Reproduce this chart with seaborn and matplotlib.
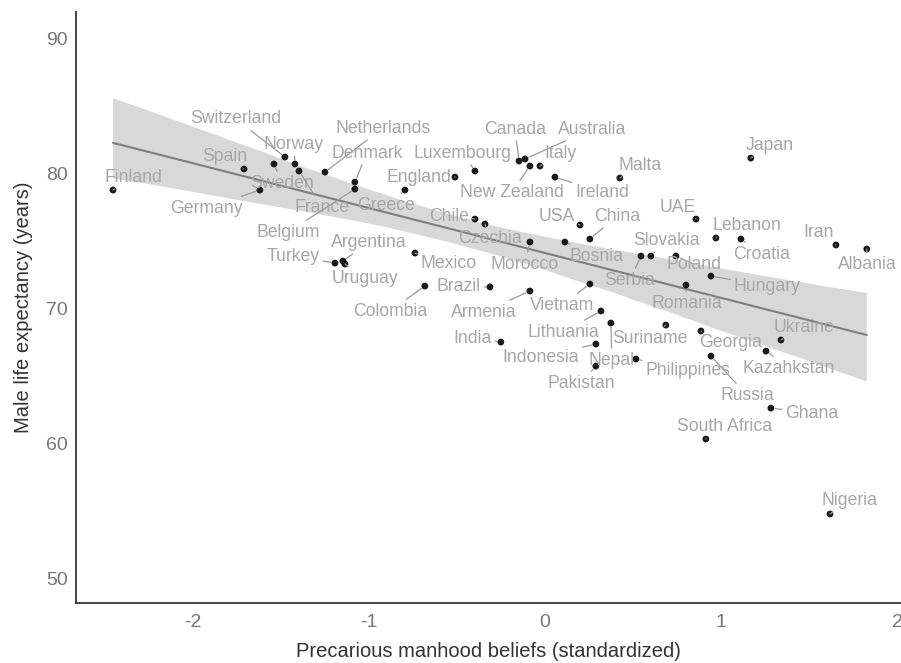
import matplotlib
matplotlib.use("Agg")
import matplotlib.pyplot as plt
import seaborn as sns
import pandas as pd
import numpy as np

countries = ["Finland", "Spain", "Sweden", "Switzerland", "Norway", "France", "Germany",
             "Netherlands", "Denmark", "Belgium", "Greece", "England", "Luxembourg", "Canada",
             "Australia", "New Zealand", "Italy", "Ireland", "Malta", "Chile", "Czechia",
             "Morocco", "Bosnia", "USA", "China", "Mexico", "Argentina", "Turkey", "Uruguay",
             "Colombia", "Brazil", "Armenia", "Vietnam", "Serbia", "Slovakia", "Poland",
             "Hungary", "Romania", "UAE", "Japan", "Lebanon", "Croatia", "Iran", "Albania",
             "Ukraine", "Georgia", "Kazahkstan", "Russia", "Ghana", "South Africa",
             "Philippines", "Suriname", "Nepal", "Pakistan", "Indonesia", "Lithuania",
             "India", "Nigeria"]

manhood = [-2.45, -1.707, -1.537, -1.475, -1.418, -1.395, -1.617,
           -1.248, -1.078, -1.078, -0.794, -0.51, -0.397, -0.147,
           -0.113, -0.085, -0.028, 0.057, 0.425, -0.397, -0.340,
           -0.085, 0.113, 0.199, 0.255, -0.737, -1.146, -1.191, -1.134,
           -0.681, -0.312, -0.085, 0.255, 0.545, 0.601, 0.743,
           0.942, 0.800, 0.857, 1.168, 0.970, 1.112, 1.651, 1.826,
           1.339, 0.885, 1.254, 0.942, 1.282, 0.913,
           0.516, 0.686, 0.374, 0.289, 0.289, 0.318,
           -0.250, 1.617]

life_exp = [78.74, 80.30, 80.67, 81.19, 80.67, 80.15, 78.74,
            80.07, 79.33, 78.81, 78.74, 79.70, 80.15, 80.89,
            81.04, 80.52, 80.52, 79.70, 79.63, 76.59, 76.22,
            74.89, 74.89, 76.15, 75.11, 74.07, 73.48, 73.33, 73.26,
            71.63, 71.56, 71.26, 71.78, 73.85, 73.85, 73.85,
            72.37, 71.70, 76.59, 81.11, 75.19, 75.11, 74.67, 74.37,
            67.63, 68.30, 66.81, 66.44, 62.59, 60.30,
            66.22, 68.74, 68.89, 65.70, 67.33, 69.78,
            67.48, 54.74]

# label offsets from each point, in pixels (dx right, dy down)
label_dx = [20, -19, 8, -49, -1, 23, -53,
            58, 12, -67, -19, -36, -12, -4,
            67, -18, 21, 47, 20, -26, 5,
            -5, 32, -23, 27, 34, 26, -42, 20,
            -35, -31, -46, -28, -11, 16, 18,
            56, 1, -18, 19, 31, 21, -17, 1,
            23, 30, 23, 36, 41, 19,
            52, -16, 1, -15, -55, -38,
            -28, 20]
label_dy = [-13, -12, 19, -38, -20, 36, 18,
            -44, -29, 43, 15, 0, -18, -32,
            -30, 26, -13, 15, -13, -3, 14,
            22, 14, -9, -23, 10, -19, -7, 14,
            25, 0, 21, 21, 24, -16, 8,
            10, 18, -12, -13, -12, 15, -12, 15,
            -13, 12, 17, 39, 5, -12,
            11, 13, 37, 17, 13, 21,
            -4, -14]

x_ticks = [-2, -1, 0, 1, 2]
y_ticks = [50, 60, 70, 80, 90]

df = pd.DataFrame({"country": countries, "manhood": manhood, "life": life_exp})

sns.set_theme(style="white")
plt.rcParams["font.family"] = ["Liberation Sans", "DejaVu Sans"]
plt.rcParams["axes.unicode_minus"] = False

W, H = 901, 663
fig = plt.figure(figsize=(W / 100, H / 100), dpi=100)
ax = fig.add_axes([76 / W, 60 / H, (W - 76) / W, (603 - 12) / H])

sns.regplot(data=df, x="manhood", y="life", scatter=False, ci=95, n_boot=2000, seed=1,
            color="#7f7f7f", line_kws={"linewidth": 1.5, "color": "#7f7f7f"}, ax=ax)
for coll in ax.collections:
    coll.set_facecolor("#d8d8d8")
    coll.set_alpha(1)
    coll.set_edgecolor("none")

sns.scatterplot(data=df, x="manhood", y="life", color="#1a1a1a", s=24, edgecolor="none",
                ax=ax, zorder=4)

for name, xv, yv, dx, dy in zip(countries, manhood, life_exp, label_dx, label_dy):
    ax.annotate(name, xy=(xv, yv), xytext=(dx, -dy), textcoords="offset pixels",
                ha="center", va="center", fontsize=12.7, color="#a6a6a6", zorder=5,
                arrowprops=dict(arrowstyle="-", color="#9a9a9a", lw=0.9,
                                shrinkA=0, shrinkB=3))

ax.set_xlim(-2.66, 2.02)
ax.set_ylim(48.15, 91.93)
ax.set_xticks(x_ticks)
ax.set_yticks(y_ticks)
ax.tick_params(axis="both", length=0, labelsize=14, labelcolor="#777777")
ax.tick_params(axis="x", pad=8)
ax.tick_params(axis="y", pad=6)
ax.set_xlabel("Precarious manhood beliefs (standardized)", fontsize=14.5, color="#333333",
              labelpad=8)
ax.set_ylabel("Male life expectancy (years)", fontsize=14.5, color="#333333", labelpad=9)

for side in ["top", "right"]:
    ax.spines[side].set_visible(False)
for side in ["left", "bottom"]:
    ax.spines[side].set_color("#444444")
    ax.spines[side].set_linewidth(1.4)

fig.savefig("out.png", dpi=100)
